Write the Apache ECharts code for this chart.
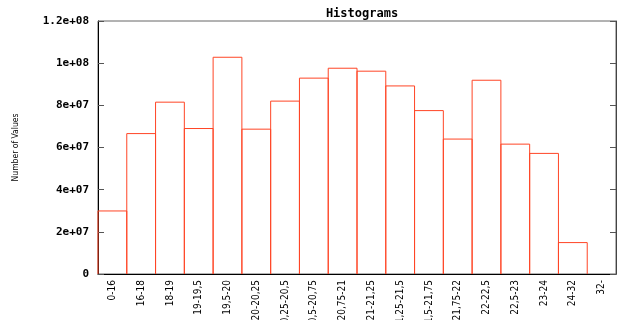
<!DOCTYPE html>
<html>
<head>
<meta charset="utf-8">
<script src="https://cdn.jsdelivr.net/npm/echarts@6/dist/echarts.min.js"></script>
<style>html,body{margin:0;padding:0;background:#fff}#c{width:618px;height:320px}</style>
</head>
<body>
<div id="c"></div>
<script>
var categories = ["0-16","16-18","18-19","19-19,5","19,5-20","20-20,25","20,25-20,5","20,5-20,75","20,75-21","21-21,25","21,25-21,5","21,5-21,75","21,75-22","22-22,5","22,5-23","23-24","24-32","32-"];
var values = [2.99e7,6.66e7,8.15e7,6.9e7,1.028e8,6.87e7,8.2e7,9.29e7,9.76e7,9.62e7,8.92e7,7.75e7,6.4e7,9.19e7,6.16e7,5.72e7,1.49e7,0];
var yTickLabels = {0:"0",20000000:"2e+07",40000000:"4e+07",60000000:"6e+07",80000000:"8e+07",100000000:"1e+08",120000000:"1.2e+08"};

var chart = echarts.init(document.getElementById('c'), null, {renderer:'canvas'});
var mono = "'DejaVu Sans Mono', monospace";
var cond = "'DejaVu Sans Condensed', 'Liberation Sans Narrow', sans-serif";
var barColor = '#ff4525';
chart.setOption({
  animation:false,
  backgroundColor:'#fff',
  title:{text:'Histograms',left:357,top:3,textAlign:'center',textStyle:{fontFamily:mono,fontSize:12,fontWeight:'bold',color:'#000'}},
  grid:{left:98,right:2,top:21,bottom:46,containLabel:false,outerBoundsMode:'none',show:true,borderColor:'#666',borderWidth:1,backgroundColor:'transparent'},
  xAxis:{type:'category',data:categories,
    name:'Bins',nameLocation:'middle',nameGap:40,
    nameTextStyle:{fontFamily:mono,fontSize:11,fontWeight:'bold',color:'#000'},
    axisLine:{lineStyle:{color:'#000',width:1}},
    axisTick:{inside:true,alignWithLabel:true,length:4,lineStyle:{color:'#000'}},
    axisLabel:{rotate:90,margin:6,interval:0,fontFamily:cond,fontSize:10,color:'#000'},
    splitLine:{show:false}},
  yAxis:[{type:'value',min:0,max:120000000,interval:20000000,
    name:'Number of Values',nameLocation:'middle',nameRotate:90,nameGap:78,
    nameTextStyle:{fontFamily:cond,fontSize:8.5,color:'#000'},
    axisLine:{show:true,lineStyle:{color:'#000',width:1}},
    axisTick:{show:true,inside:true,length:6,lineStyle:{color:'#555'}},
    axisLabel:{margin:9,fontFamily:mono,fontSize:11,fontWeight:'bold',color:'#000',formatter:function(v){return yTickLabels[v]!==undefined?yTickLabels[v]:'';}},
    splitLine:{show:false}},
   {type:'value',min:0,max:120000000,interval:20000000,position:'right',
    axisLine:{show:true,lineStyle:{color:'#444'}},
    axisTick:{show:true,inside:true,length:6,lineStyle:{color:'#555'}},
    axisLabel:{show:false},splitLine:{show:false}}],
  series:[{type:'custom',data:values.map(function(v,i){return [i,v];}),
    encode:{x:0,y:1},
    renderItem:function(params,api){
      var v = api.value(1);
      if(!v) return null;
      var top = api.coord([api.value(0), v]);
      var base = api.coord([api.value(0), 0]);
      var w = api.size([1,0])[0];
      var l = top[0]-w/2, r = top[0]+w/2;
      return {type:'polyline',shape:{points:[[l,base[1]],[l,top[1]],[r,top[1]],[r,base[1]]]},
        style:{stroke:barColor,lineWidth:1,fill:null}};
    }}]
});
</script>
</body>
</html>
